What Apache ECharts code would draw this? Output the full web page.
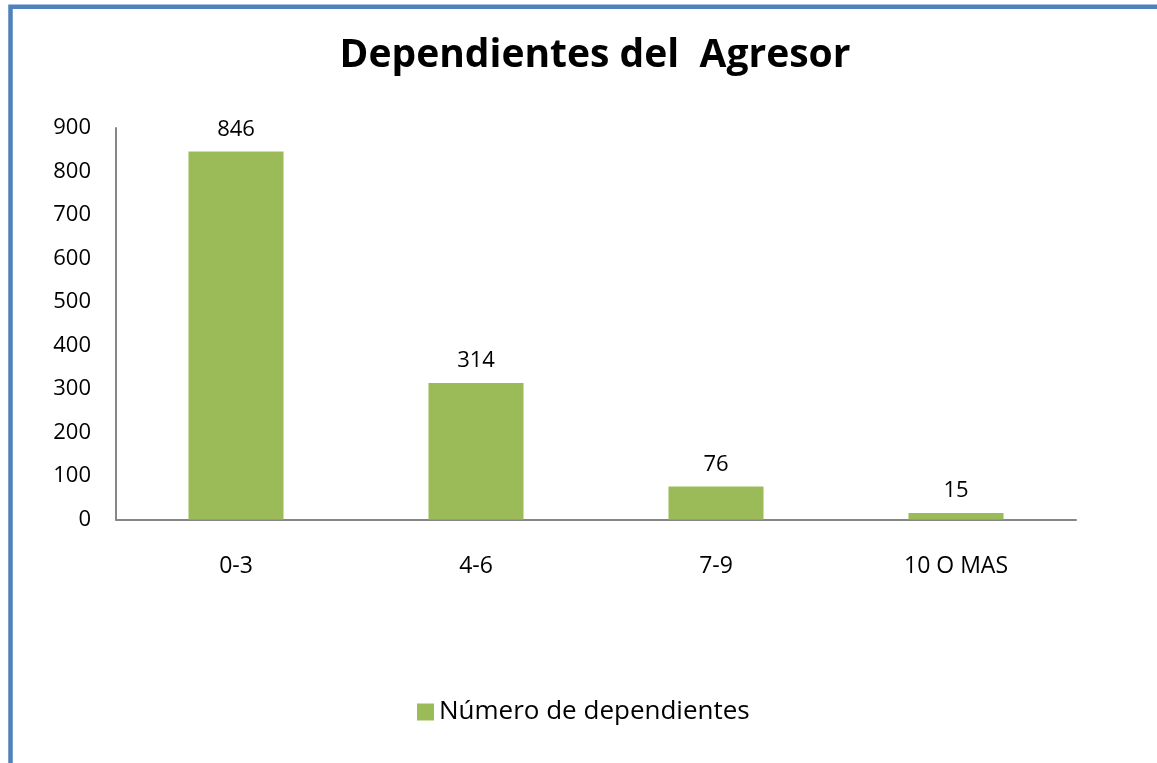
<!DOCTYPE html>
<html>
<head>
<meta charset="utf-8">
<script src="https://cdn.jsdelivr.net/npm/echarts@6/dist/echarts.min.js"></script>
<style>
html,body{margin:0;padding:0;background:#fff;}
#c{width:1157px;height:763px;}
</style>
</head>
<body>
<div id="c"></div>
<script>
var categories = ['0-3', '4-6', '7-9', '10 O MAS'];
var seriesName = 'Número de dependientes';
var values = [846, 314, 76, 15];
var titleText = 'Dependientes del  Agresor';

var FONT = '"Open Sans", "Noto Sans", sans-serif';
var chart = echarts.init(document.getElementById('c'), null, {renderer: 'canvas'});
chart.setOption({
  backgroundColor: '#ffffff',
  animation: false,
  graphic: [{
    type: 'rect',
    shape: {x: 10.5, y: 6.8, width: 1300, height: 1000},
    style: {fill: 'none', stroke: '#4F81BD', lineWidth: 4.5},
    z: 100
  }],
  title: {
    text: titleText,
    left: 590,
    textAlign: 'center',
    top: 31,
    textStyle: {fontFamily: FONT, fontSize: 39, fontWeight: 'bold', color: '#000'}
  },
  legend: {
    bottom: 33,
    left: 412,
    itemWidth: 17,
    itemHeight: 17,
    itemGap: 10,
    icon: 'rect',
    textStyle: {fontFamily: FONT, fontSize: 26, color: '#000'},
    data: [seriesName]
  },
  grid: {left: 116, right: 81, top: 128, bottom: 243.5, containLabel: false},
  xAxis: {
    type: 'category',
    data: categories,
    axisLine: {lineStyle: {color: '#868686', width: 2}},
    axisTick: {show: false},
    axisLabel: {fontFamily: FONT, fontSize: 23, color: '#000', margin: 35}
  },
  yAxis: {
    type: 'value',
    min: 0,
    max: 900,
    interval: 100,
    axisLine: {show: true, lineStyle: {color: '#868686', width: 2}},
    axisTick: {show: false},
    splitLine: {show: false},
    axisLabel: {fontFamily: FONT, fontSize: 22, color: '#000', margin: 25}
  },
  series: [{
    name: seriesName,
    type: 'bar',
    data: values,
    barWidth: '39.6%',
    itemStyle: {color: '#9BBB59'},
    label: {
      show: true,
      position: 'top',
      distance: 11,
      fontFamily: FONT,
      fontSize: 22,
      color: '#000'
    }
  }]
});
</script>
</body>
</html>
